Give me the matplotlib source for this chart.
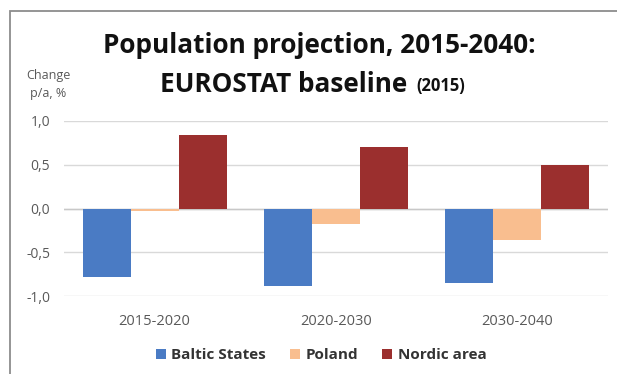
import matplotlib.pyplot as plt
import numpy as np
from matplotlib.patches import Rectangle

periods = ["2015-2020", "2020-2030", "2030-2040"]
series = ["Baltic States", "Poland", "Nordic area"]
baltic = [-0.78, -0.89, -0.85]
poland = [-0.03, -0.18, -0.36]
nordic = [0.84, 0.705, 0.495]
yticks = [1.0, 0.5, 0.0, -0.5, -1.0]
colors = ["#4A7BC4", "#F9BE8F", "#9B2F2E"]

plt.rcParams["font.family"] = ["Open Sans", "DejaVu Sans"]

W, H = 617, 374
fig = plt.figure(figsize=(W / 100, H / 100), dpi=100)
# outer chart frame (left and top edges visible)
fig.patches.append(Rectangle((10.5 / W, -0.1), 1.2, 1 - 11.5 / H + 0.1,
                             transform=fig.transFigure, fill=False,
                             edgecolor="#8C8C8C", linewidth=1.3))
ax = fig.add_axes([64 / W, 1 - 296 / H, 544 / W, 175 / H])

x = np.arange(len(periods))
w = 0.265
for i, (vals, name) in enumerate(zip([baltic, poland, nordic], series)):
    ax.bar(x + (i - 1) * w, vals, width=w, color=colors[i], label=name, zorder=3)

ax.set_xlim(-0.5, len(periods) - 0.5)
ax.set_ylim(-1.0, 1.0)
ax.set_yticks(yticks)
ax.set_yticklabels([f"{v:.1f}".replace(".", ",") for v in yticks],
                   fontsize=10, color="#595959")
ax.set_xticks(x)
ax.set_xticklabels(periods, fontsize=10.5, color="#595959")
ax.tick_params(length=0)
ax.tick_params(axis="y", pad=10)
ax.tick_params(axis="x", pad=13)
ax.grid(axis="y", color="#D9D9D9", linewidth=1, zorder=0)
ax.axhline(0, color="#C8C8C8", linewidth=1, zorder=2)
for s in ax.spines.values():
    s.set_visible(False)

fig.text(319 / W, 1 - 53 / H, "Population projection, 2015-2040:",
         ha="center", va="baseline", fontsize=18.8, fontweight="bold",
         color="#111111")
fig.text(407 / W, 1 - 92 / H, "EUROSTAT baseline", ha="right", va="baseline",
         fontsize=18.8, fontweight="bold", color="#111111")
fig.text(416 / W, 1 - 91 / H, "(2015)", ha="left", va="baseline",
         fontsize=12, fontweight="bold", color="#111111")
fig.text(48 / W, 1 - 85 / H, "Change\np/a, %", ha="center", va="center",
         fontsize=9, color="#595959", linespacing=1.5)

ax.legend(loc="center", bbox_to_anchor=(321 / W, 1 - 355 / H),
          bbox_transform=fig.transFigure, ncol=3, frameon=False,
          prop={"size": 11, "weight": "bold"}, handlelength=0.65,
          handleheight=0.65, handletextpad=0.35, columnspacing=1.6,
          labelcolor="#333333")

fig.savefig("out.png", dpi=100)
